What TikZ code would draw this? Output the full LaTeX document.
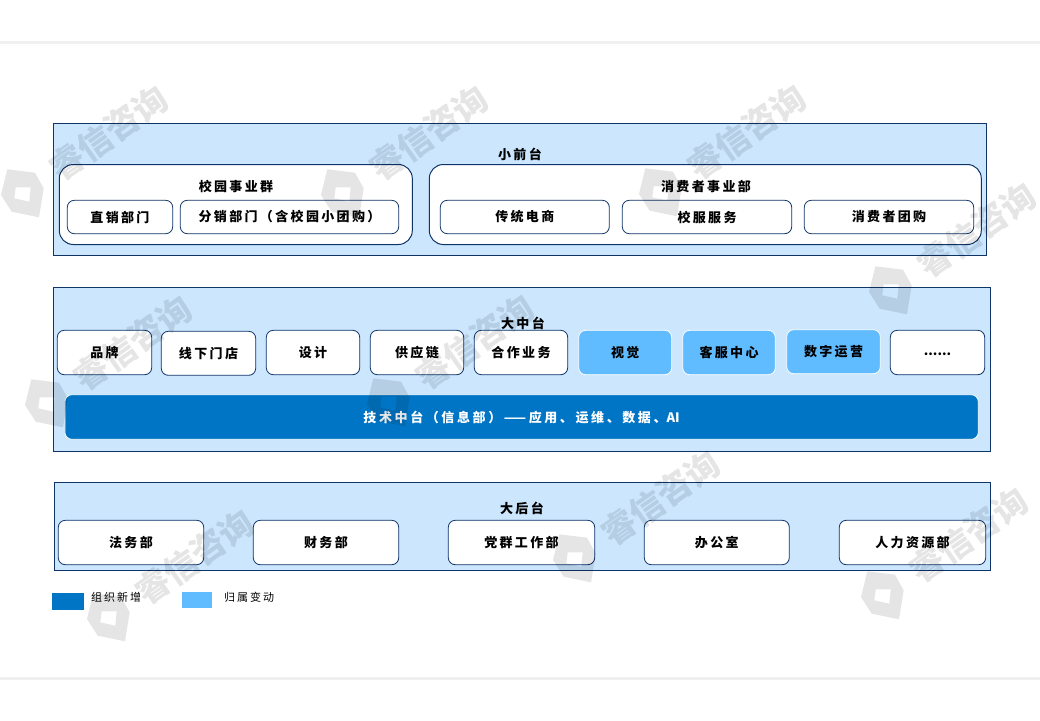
\documentclass[tikz,border=0pt]{standalone}
\usepackage{fontspec}
\setmainfont{Noto Sans CJK SC}[LetterSpace=18]
\usepackage{tikz}
\usetikzlibrary{positioning}

\definecolor{navyline}{HTML}{0F3468}
\definecolor{panelblue}{HTML}{CBE6FD}
\definecolor{movedblue}{HTML}{61BBFF}
\definecolor{techblue}{HTML}{0075C5}
\definecolor{ruleline}{HTML}{F0F0F0}

\newcommand{\tightset}{\addfontfeature{LetterSpace=0}}

\begin{document}
\begin{tikzpicture}[
  x=1pt,
  y=-1pt,
  font=\bfseries\fontsize{13}{15}\selectfont,
  panel/.style={
    draw=navyline,
    line width=1pt,
    fill=panelblue,
    inner sep=0pt,
    outer sep=0pt
  },
  group/.style={
    draw=navyline,
    line width=1pt,
    rounded corners=14pt,
    fill=white,
    inner sep=0pt,
    outer sep=0pt
  },
  unit/.style={
    draw=navyline,
    line width=0.8pt,
    rounded corners=7pt,
    fill=white,
    inner sep=0pt,
    outer sep=0pt
  },
  moved/.style={
    unit,
    draw=white,
    fill=movedblue
  },
  techbar/.style={
    unit,
    draw=white,
    fill=techblue,
    text=white
  },
  swatch/.style={
    inner sep=0pt,
    outer sep=0pt
  },
  legendtext/.style={
    font=\fontsize{11}{13}\selectfont,
    inner sep=0pt
  },
  rulebar/.style={
    ruleline,
    line width=3pt
  },
  wmark/.pic={
    \path[fill=black,fill opacity=0.1,even odd rule]
      (-14.7,-23.7) -- (13,-20.3) -- (21.7,-4.7) -- (17,24.3) -- (-10.3,18.7) -- (-21,2) -- cycle
      (-6.3,-5.7) -- (8.7,-5.7) -- (7.3,8.7) -- (-7.7,5.3) -- cycle;
    \node[rotate=35,text=black,text opacity=0.1,inner sep=0pt,
      font=\bfseries\fontsize{34}{36}\selectfont\tightset] (-name) at (86.5,-60) {睿信咨询};
  }
]
\useasboundingbox (0,0) rectangle (1040,720);

%---------------------------------
% Page rules
%---------------------------------
\draw[rulebar] (0,42.5) -- (1040,42.5);
\draw[rulebar] (0,678.5) -- (1040,678.5);

%---------------------------------
% Panels
%---------------------------------
\node[panel,minimum width=933pt,minimum height=132pt] (front) at (519.8,189.3) {};
\node[panel,minimum width=937pt,minimum height=164pt] (middle) at (521.7,369.3) {};
\node[panel,minimum width=936pt,minimum height=88pt] (back) at (522.4,526.3) {};

\node (fronttitle) at (520,154) {小前台};
\node (middletitle) at (523,323) {大中台};
\node (backtitle) at (522,508) {大后台};

%---------------------------------
% Small front office
%---------------------------------
\node[group,minimum width=353pt,minimum height=80pt] (campus) at (235.8,204.5) {};
\node[group,minimum width=552pt,minimum height=80pt] (consumer) at (705.3,204.5) {};

\node (campustitle) at (236,186.5) {校园事业群};
\node (consumertitle) at (706,186.5) {消费者事业部};

\node[unit,minimum width=105.4pt,minimum height=33.4pt] (direct) at (120,217) {直销部门};
\node[unit,minimum width=218.4pt,minimum height=33.4pt] (resale) at (289.5,217) {分销部门（含校园小团购）};
\node[unit,minimum width=169pt,minimum height=33.4pt] (retail) at (524.8,217) {传统电商};
\node[unit,minimum width=169.4pt,minimum height=33.4pt] (uniform) at (707,217) {校服服务};
\node[unit,minimum width=169.4pt,minimum height=33.4pt] (groupbuy) at (889,217) {消费者团购};

%---------------------------------
% Large middle office
%---------------------------------
\node[unit,minimum width=94.4pt,minimum height=44.4pt] (brand) at (104.5,352.5) {品牌};
\node[unit,minimum width=94.4pt,minimum height=44pt] (stores) at (208.5,353.3) {线下门店};
\node[unit,minimum width=93.4pt,minimum height=44.4pt] (design) at (313,352.5) {设计};
\node[unit,minimum width=93.4pt,minimum height=44.4pt] (supply) at (417,352.5) {供应链};
\node[unit,minimum width=93.4pt,minimum height=44.4pt] (partner) at (521,352.5) {合作业务};
\node[moved,minimum width=93pt,minimum height=44.4pt] (visual) at (625.2,352.5) {视觉};
\node[moved,minimum width=92.6pt,minimum height=44.4pt] (service) at (729,352.5) {客服中心};
\node[moved,minimum width=93.6pt,minimum height=44pt] (digital) at (833.5,351.7) {数字运营};
\node[unit,minimum width=94.4pt,minimum height=44.4pt,text height=9pt,text depth=3pt] (more) at (937.5,352.5) {\tightset ......};

\node[techbar,minimum width=913.4pt,minimum height=44.6pt] (tech) at (521.6,417) {\addfontfeature{LetterSpace=20}技术中台（信息部）——应用、运维、数据、{\tightset AI}};

%---------------------------------
% Large back office
%---------------------------------
\node[unit,minimum width=145.4pt,minimum height=44.4pt] (legal) at (131,542.5) {法务部};
\node[unit,minimum width=145.4pt,minimum height=44.4pt] (finance) at (326,542.5) {财务部};
\node[unit,minimum width=146.4pt,minimum height=44.4pt] (party) at (521.5,542.5) {党群工作部};
\node[unit,minimum width=145pt,minimum height=44.4pt] (office) at (716.8,542.5) {办公室};
\node[unit,minimum width=146.4pt,minimum height=44.4pt] (people) at (912.5,542.5) {人力资源部};

%---------------------------------
% Legend
%---------------------------------
\node[swatch,fill=techblue,minimum width=32pt,minimum height=17pt] (newkey) at (68,601.5) {};
\node[swatch,fill=movedblue,minimum width=30pt,minimum height=16pt] (movedkey) at (197,600) {};
\node[legendtext,anchor=west] (newtext) at (91,597) {组织新增};
\node[legendtext,anchor=west] (movedtext) at (224,597) {归属变动};

%---------------------------------
% Watermarks
%---------------------------------
\pic (wma) at (22,193) {wmark};
\pic (wmb) at (342,193) {wmark};
\pic (wmc) at (660,192) {wmark};
\pic (wmd) at (890,290) {wmark};
\pic (wme) at (46,403) {wmark};
\pic (wmf) at (388,402) {wmark};
\pic (wmg) at (574,558) {wmark};
\pic (wmh) at (108,617) {wmark};
\pic (wmi) at (882,595) {wmark};

\end{tikzpicture}
\end{document}
